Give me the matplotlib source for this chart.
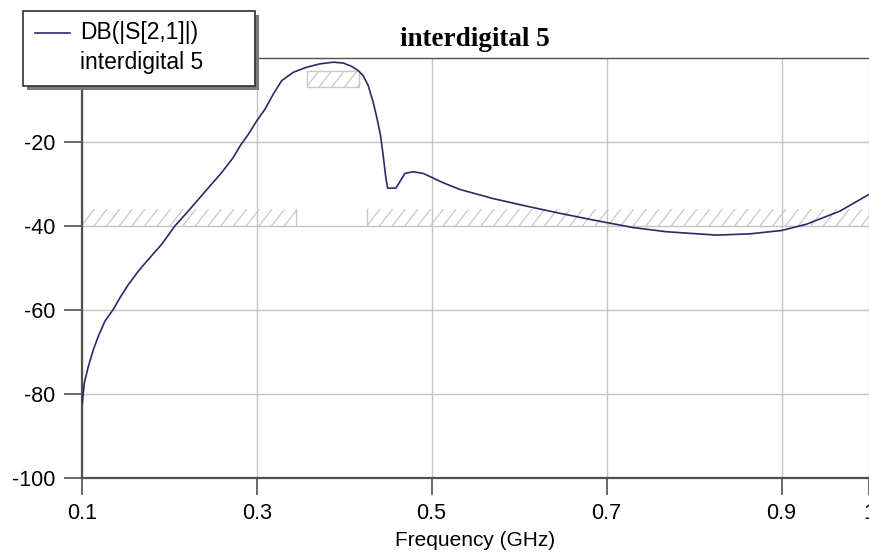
import numpy as np
import matplotlib
matplotlib.use("Agg")
import matplotlib.pyplot as plt
from matplotlib.patches import Rectangle
from matplotlib.lines import Line2D

plt.rcParams["font.family"] = ["Liberation Sans", "DejaVu Sans"]
plt.rcParams["axes.unicode_minus"] = False

# S21 response
freq_ghz = [0.1007, 0.1030, 0.1076, 0.1133, 0.1190, 0.1266, 0.1361, 0.1438, 0.1533, 0.1647,
            0.1761, 0.1914, 0.2066, 0.2200, 0.2333, 0.2466, 0.2600, 0.2733, 0.2815, 0.2904,
            0.3000, 0.3095, 0.3190, 0.3286, 0.3419, 0.3571, 0.3723, 0.3876, 0.3990, 0.4086,
            0.4161, 0.4218, 0.4276, 0.4333, 0.4378, 0.4417, 0.4447, 0.4474, 0.4497, 0.4592,
            0.4695, 0.4790, 0.4904, 0.5130, 0.5320, 0.5704, 0.6086, 0.6466, 0.6847, 0.7304,
            0.7686, 0.8257, 0.8638, 0.9000, 0.9286, 0.9666, 1.0]
s21_db = [-82.2, -77.4, -73.5, -69.5, -66.3, -62.7, -59.9, -57.1, -54.0, -50.8,
          -48.0, -44.4, -40.0, -36.9, -33.7, -30.5, -27.3, -23.7, -20.8, -18.2,
          -15.0, -12.2, -8.6, -5.4, -3.4, -2.2, -1.4, -1.0, -1.2, -2.0,
          -3.0, -4.2, -6.6, -10.6, -14.6, -18.6, -23.3, -28.1, -31.0, -31.0,
          -27.5, -27.1, -27.5, -29.7, -31.3, -33.5, -35.3, -37.0, -38.6, -40.4,
          -41.4, -42.2, -41.9, -41.1, -39.6, -36.5, -32.5]

# spec masks: (f_start, f_stop, db_low, db_high)
pass_mask = (0.357, 0.4173, -7.0, -3.0)
stop_masks = [(0.100, 0.3455, -40.0, -36.0), (0.4264, 1.0, -40.0, -36.0)]

x_ticks = [0.1, 0.3, 0.5, 0.7, 0.9, 1.0]
x_tick_labels = ["0.1", "0.3", "0.5", "0.7", "0.9", "1"]
y_ticks = [-100, -80, -60, -40, -20]

title = "interdigital 5"
trace_name = "DB(|S[2,1]|)"

W, H = 869, 552
fig = plt.figure(figsize=(W / 100, H / 100), dpi=100)
ax = fig.add_axes([81.7 / W, 74.3 / H, (W - 81.7) / W, (494 - 74.3) / H])

grid_col = "#c4c4c4"
hatch_col = "#c8c8c8"
trace_col = "#2a2a66"


def hatch_region(ax, f0, f1, lo, hi, outline):
    rect = Rectangle((f0, lo), f1 - f0, hi - lo, facecolor="none",
                     edgecolor=hatch_col if outline else "none", lw=1.0, zorder=2)
    ax.add_patch(rect)
    run = 0.0149 * (hi - lo) / 4.0
    step = 0.0145
    for x0 in np.arange(f0 - run, f1, step):
        ln, = ax.plot([x0, x0 + run], [lo, hi], color=hatch_col, lw=0.9, zorder=2)
        ln.set_clip_path(rect)
    if not outline:
        ax.plot([f0, f0], [lo, hi], color=hatch_col, lw=1.0, zorder=2)
        ax.plot([f1, f1], [lo, hi], color=hatch_col, lw=1.0, zorder=2)


hatch_region(ax, *pass_mask, outline=True)
for m in stop_masks:
    hatch_region(ax, *m, outline=False)

ax.plot(freq_ghz, s21_db, color=trace_col, lw=1.2, zorder=3)

ax.set_xlim(0.1, 1.0)
ax.set_ylim(-100, 0)
ax.set_xticks(x_ticks)
ax.set_xticklabels(x_tick_labels)
ax.set_yticks(y_ticks)
ax.grid(True, color=grid_col, lw=1.0, zorder=0)
ax.set_axisbelow(True)

for side in ["left", "bottom"]:
    ax.spines[side].set_color("#505050")
    ax.spines[side].set_linewidth(1.6)
ax.spines["top"].set_color("#505050")
ax.spines["top"].set_linewidth(1.0)
ax.spines["right"].set_visible(False)
ax.tick_params(direction="out", length=12, width=1.2, color="#505050",
               labelsize=15.5, pad=6)
ax.tick_params(axis="y", length=13, pad=6)

ax.set_xlabel("Frequency (GHz)", fontsize=15, labelpad=5)
fig.text(475 / W, 1 - 40 / H, title, ha="center", va="center",
         fontsize=19.5, fontweight="bold", family=["Liberation Serif", "DejaVu Serif"])

# legend box with drop shadow
lx0, ly0, lx1, ly1 = 23.3, 10.7, 255, 86
fig.add_artist(Rectangle(((lx0 + 4) / W, 1 - (ly1 + 4) / H), (lx1 - lx0) / W, (ly1 - ly0) / H,
                         transform=fig.transFigure, facecolor="#7a7a7a", edgecolor="none", zorder=5))
fig.add_artist(Rectangle((lx0 / W, 1 - ly1 / H), (lx1 - lx0) / W, (ly1 - ly0) / H,
                         transform=fig.transFigure, facecolor="white", edgecolor="#303030",
                         lw=1.2, zorder=6))
fig.add_artist(Line2D([35 / W, 70 / W], [1 - 33 / H, 1 - 33 / H], transform=fig.transFigure,
                      color=trace_col, lw=1.2, zorder=7))
fig.text(80 / W, 1 - 33 / H, trace_name, ha="left", va="center", fontsize=16.5, zorder=7)
fig.text(80 / W, 1 - 62 / H, title, ha="left", va="center", fontsize=16.5, zorder=7)

fig.savefig("out.png", dpi=100)
